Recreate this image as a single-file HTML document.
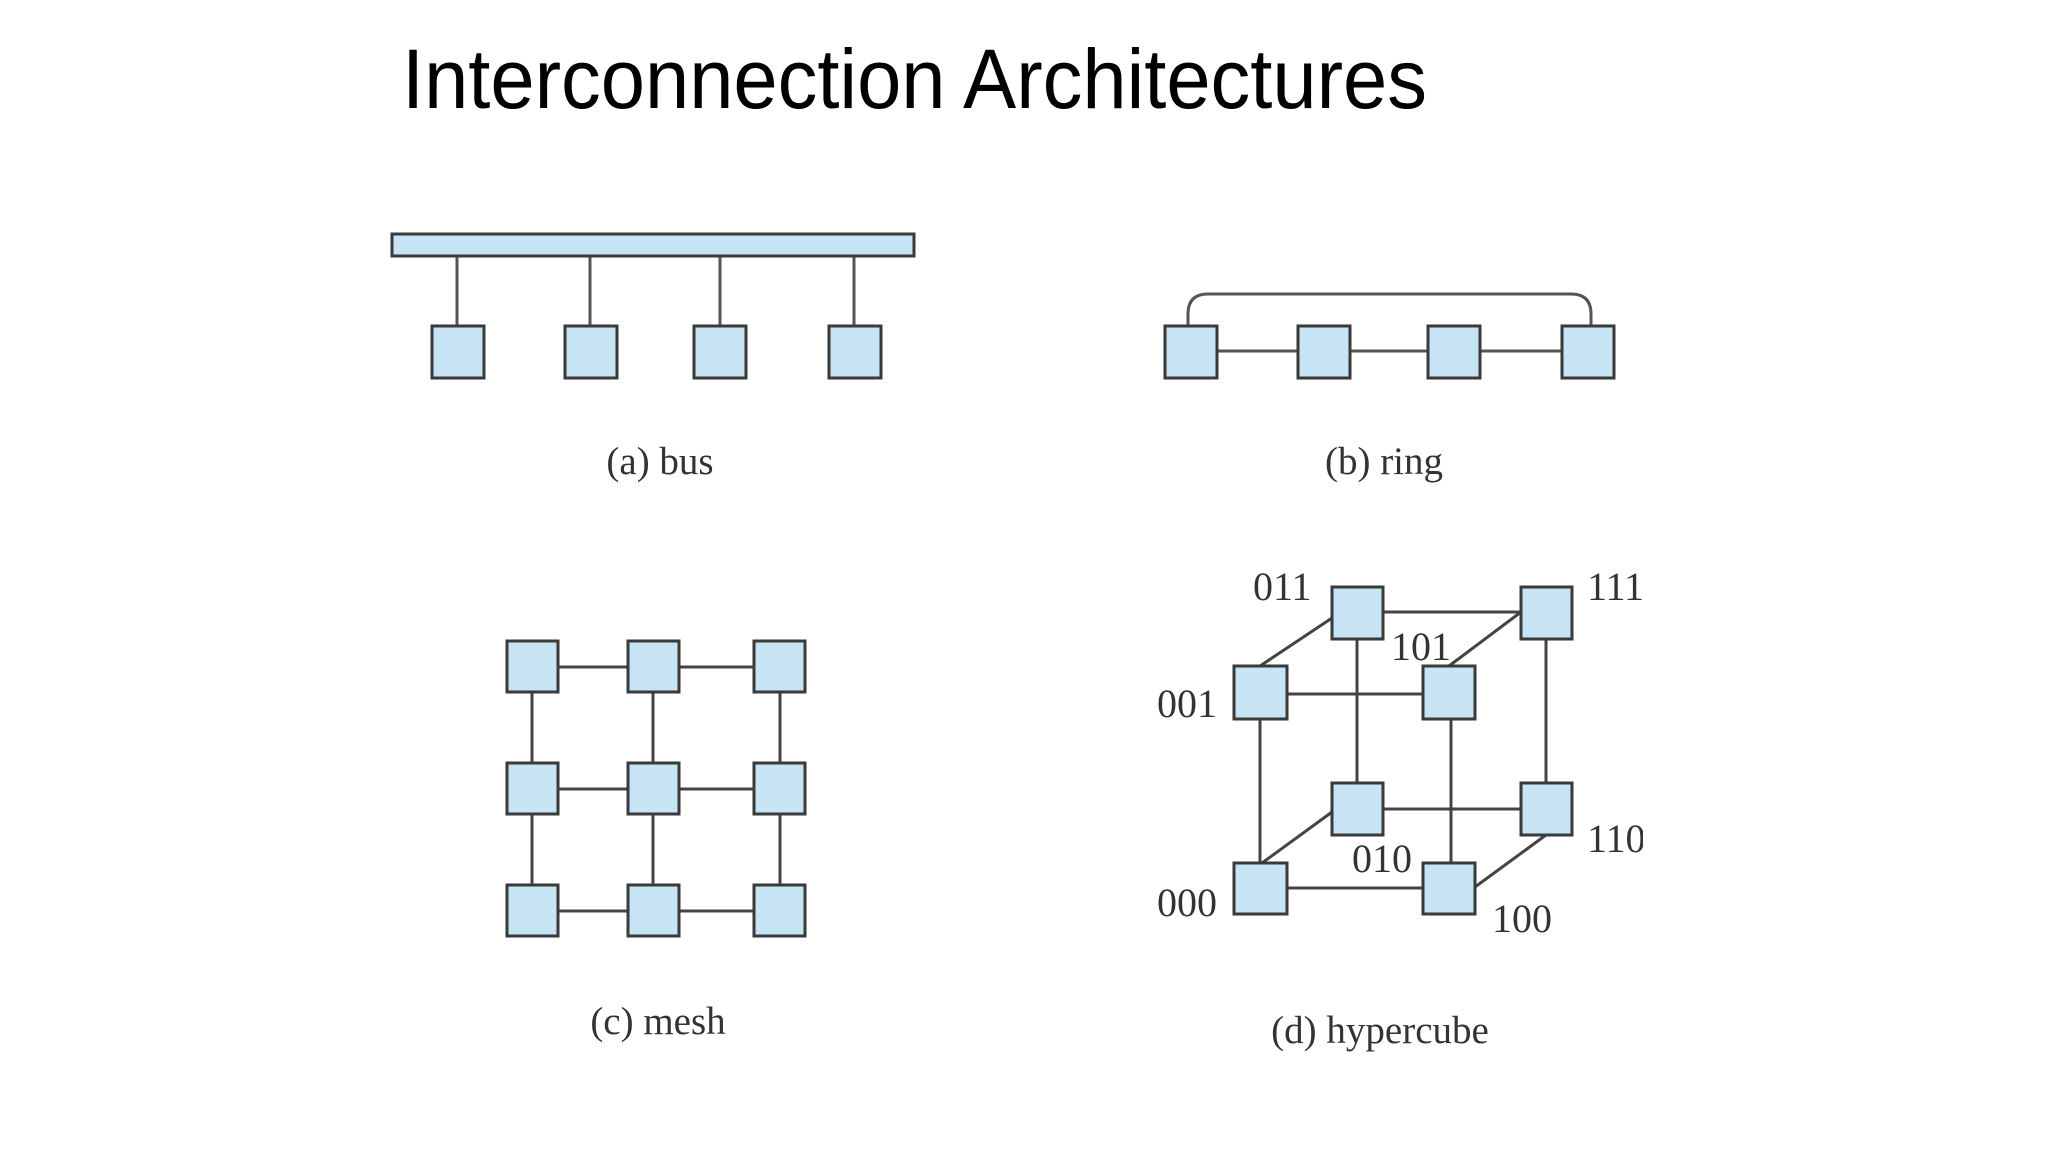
<!DOCTYPE html>
<html><head><meta charset="utf-8"><style>
html,body{margin:0;padding:0;background:#fff;}
svg{display:block;}
</style></head><body>
<svg width="2048" height="1152" viewBox="0 0 2048 1152" xmlns="http://www.w3.org/2000/svg">
<defs><clipPath id="c"><rect x="0" y="0" width="1643" height="1152"/></clipPath></defs>
<text x="402" y="108" font-family="Liberation Sans, sans-serif" font-size="84" textLength="1025" lengthAdjust="spacingAndGlyphs" fill="#000">Interconnection Architectures</text>
<g stroke="#555" stroke-width="3" fill="none">
<line x1="457" y1="256" x2="457" y2="325"/><line x1="590" y1="256" x2="590" y2="325"/>
<line x1="720" y1="256" x2="720" y2="325"/><line x1="854" y1="256" x2="854" y2="325"/>
<path d="M1188 325 V314 Q1188 294 1208 294 H1571 Q1591 294 1591 314 V325"/>
<line x1="1216" y1="351" x2="1561" y2="351"/>
</g>
<g stroke="#444" stroke-width="3">
<line x1="532" y1="667" x2="780" y2="667"/><line x1="532" y1="789" x2="780" y2="789"/><line x1="532" y1="911" x2="780" y2="911"/>
<line x1="532" y1="667" x2="532" y2="911"/><line x1="653" y1="667" x2="653" y2="911"/><line x1="780" y1="667" x2="780" y2="911"/>
<line x1="1260" y1="666" x2="1332" y2="618"/><line x1="1449" y1="666" x2="1521" y2="612"/>
<line x1="1262" y1="863" x2="1332" y2="812"/><line x1="1475" y1="887" x2="1546" y2="835"/>
<line x1="1260" y1="692" x2="1260" y2="888"/><line x1="1357" y1="612" x2="1357" y2="809"/>
<line x1="1451" y1="692" x2="1451" y2="888"/><line x1="1546" y1="612" x2="1546" y2="809"/>
<line x1="1357" y1="612" x2="1546" y2="612"/><line x1="1260" y1="694" x2="1451" y2="694"/>
<line x1="1357" y1="809" x2="1546" y2="809"/><line x1="1260" y1="888" x2="1451" y2="888"/>
</g>
<g fill="#c6e4f3" stroke="#3a3a3a" stroke-width="3">
<rect x="392" y="234" width="522" height="22"/>
<rect x="432" y="326" width="52" height="52"/><rect x="565" y="326" width="52" height="52"/>
<rect x="694" y="326" width="52" height="52"/><rect x="829" y="326" width="52" height="52"/>
<rect x="1165" y="326" width="52" height="52"/><rect x="1298" y="326" width="52" height="52"/>
<rect x="1428" y="326" width="52" height="52"/><rect x="1562" y="326" width="52" height="52"/>
<rect x="507" y="641" width="51" height="51"/><rect x="628" y="641" width="51" height="51"/><rect x="754" y="641" width="51" height="51"/>
<rect x="507" y="763" width="51" height="51"/><rect x="628" y="763" width="51" height="51"/><rect x="754" y="763" width="51" height="51"/>
<rect x="507" y="885" width="51" height="51"/><rect x="628" y="885" width="51" height="51"/><rect x="754" y="885" width="51" height="51"/>
<rect x="1332" y="587" width="51" height="52"/><rect x="1521" y="587" width="51" height="52"/>
<rect x="1234" y="666" width="53" height="53"/><rect x="1423" y="666" width="52" height="53"/>
<rect x="1332" y="783" width="51" height="52"/><rect x="1521" y="783" width="51" height="52"/>
<rect x="1234" y="863" width="53" height="51"/><rect x="1423" y="863" width="52" height="51"/>
</g>
<g font-family="Liberation Serif, serif" fill="#333" font-size="39" text-anchor="middle">
<text x="660" y="474">(a) bus</text>
<text x="1384" y="474">(b) ring</text>
<text x="658" y="1034">(c) mesh</text>
<text x="1380" y="1043">(d) hypercube</text>
</g>
<g font-family="Liberation Serif, serif" fill="#333" font-size="40" clip-path="url(#c)">
<text x="1253" y="600">011</text>
<text x="1587" y="600">111</text>
<text x="1391" y="660">101</text>
<text x="1157" y="717">001</text>
<text x="1587" y="852">110</text>
<text x="1352" y="872">010</text>
<text x="1157" y="916">000</text>
<text x="1492" y="932">100</text>
</g>
</svg>
</body></html>
